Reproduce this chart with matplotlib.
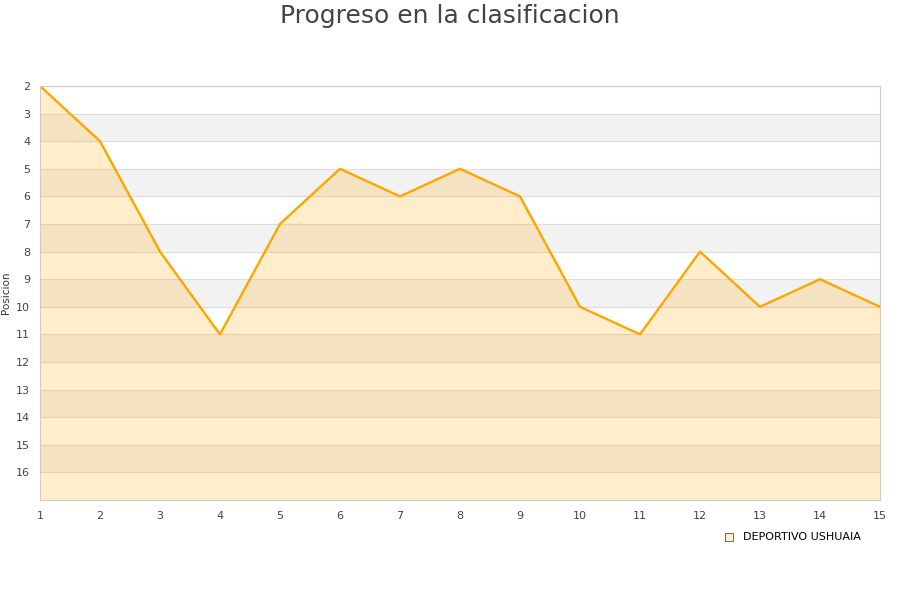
import numpy as np
import matplotlib.pyplot as plt

jornadas = [1, 2, 3, 4, 5, 6, 7, 8, 9, 10, 11, 12, 13, 14, 15]
posicion = [2, 4, 8, 11, 7, 5, 6, 5, 6, 10, 11, 8, 10, 9, 10]
equipo = 'DEPORTIVO USHUAIA'
y_ticks = list(range(2, 17))

fig = plt.figure(figsize=(9, 6), dpi=100)
ax = fig.add_axes([40 / 900, 100 / 600, 840 / 900, 414 / 600])

# bandas alternas
for y0 in range(3, 17, 2):
    ax.axhspan(y0, y0 + 1, color='#f2f2f2', zorder=0, lw=0)
for y in range(2, 18):
    ax.axhline(y, color='#dddddd', lw=0.8, zorder=0.5)

ax.fill_between(jornadas, posicion, 17, color='#ffa500', alpha=0.2, lw=0, zorder=1)
ax.plot(jornadas, posicion, color='#ffa500', lw=1.7, zorder=2)
ax.scatter([], [], marker='s', s=40, facecolor='#ffedcc', edgecolor='#555555',
           linewidth=0.6, label=equipo)

ax.set_xlim(1, 15)
ax.set_ylim(17, 2)
ax.set_xticks(jornadas)
ax.set_yticks(y_ticks)
ax.tick_params(length=0, labelsize=8, colors='#444444', pad=8)
ax.tick_params(axis='y', pad=7)
for s in ['top', 'right', 'left', 'bottom']:
    ax.spines[s].set_color('#cccccc')
    ax.spines[s].set_linewidth(0.8)
ax.set_ylabel('Posicion', fontsize=7.5, color='#333333')
ax.yaxis.set_label_coords(-0.034, 0.5)

fig.suptitle('Progreso en la clasificacion', fontsize=18, color='#444444', y=0.993)
fig.legend(loc='upper right', bbox_to_anchor=(0.963, 0.122), frameon=False,
           fontsize=8, handletextpad=0.3, borderpad=0)

fig.savefig('out.png', dpi=100)
